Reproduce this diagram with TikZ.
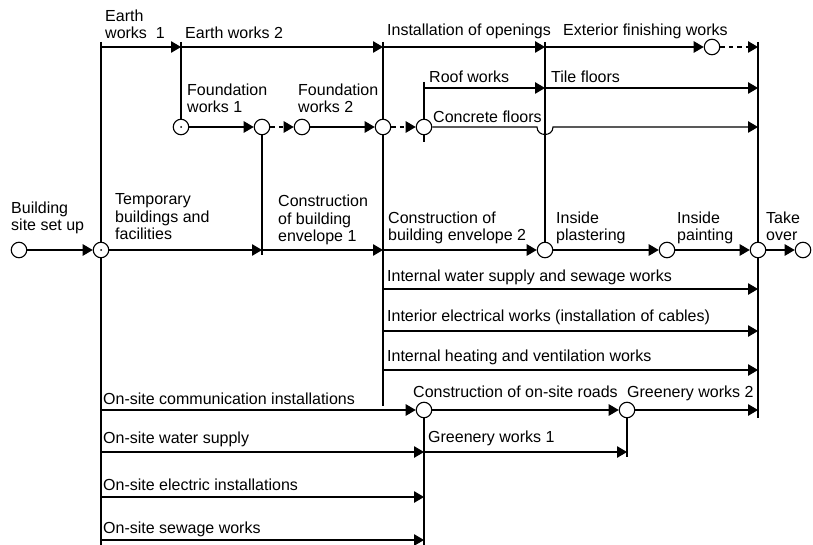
\documentclass[tikz,border=0pt]{standalone}
\usepackage{fontspec}
\setmainfont{Liberation Sans}
\usetikzlibrary{arrows.meta}
\begin{document}
\begin{tikzpicture}[x=1pt,y=-1pt,
  ev/.style={circle,draw,fill=white,minimum size=15.5pt,inner sep=0pt,line width=1.1pt},
  evdot/.style={ev,path picture={\fill[black] (path picture bounding box.center) circle[radius=1pt];}},
  act/.style={line width=1.1pt,-{Triangle[length=10pt,width=11.5pt]}},
  dum/.style={act,dash pattern=on 4.5pt off 4pt},
  bar/.style={line width=2.2pt},
  lab/.style={anchor=south west,inner sep=0pt,text depth=0pt,align=left,font=\fontsize{16}{17.5}\selectfont}]
\useasboundingbox (0,0) rectangle (813,545);

% events
\node[ev] (e0) at (19,250) {};
\node[evdot] (e1) at (101,250) {};
\node[evdot] (e2) at (181,127) {};
\node[ev] (e3) at (262,127) {};
\node[ev] (e4) at (302,127) {};
\node[ev] (e5) at (383,127) {};
\node[ev] (e6) at (424,127) {};
\node[ev] (e7) at (545,250) {};
\node[ev] (e8) at (667,250) {};
\node[ev] (e9) at (758,250) {};
\node[ev] (e10) at (803,250) {};
\node[ev] (e11) at (712,47) {};
\node[ev] (e12) at (424,410) {};
\node[ev] (e13) at (627,410) {};

% bar end points
\coordinate (a1) at (101,42);  \coordinate (a2) at (101,545);
\coordinate (b1) at (181,42);
\coordinate (c2) at (262,255);
\coordinate (d1) at (383,42);  \coordinate (d2) at (383,406);
\coordinate (f1) at (424,82);  \coordinate (f2) at (424,142);
\coordinate (g1) at (545,42);
\coordinate (h1) at (758,42);  \coordinate (h2) at (758,418);
\coordinate (k2) at (424,545);
\coordinate (m2) at (627,457);

\draw[bar] (a1) -- (e1.north) (e1.south) -- (a2);
\draw[bar] (b1) -- (e2.north);
\draw[bar] (e3.south) -- (c2);
\draw[bar] (d1) -- (e5.north) (e5.south) -- (d2);
\draw[bar] (f1) -- (e6.north) (e6.south) -- (f2);
\draw[bar] (g1) -- (e7.north);
\draw[bar] (h1) -- (e9.north) (e9.south) -- (h2);
\draw[bar] (e12.south) -- (k2);
\draw[bar] (e13.south) -- (m2);

% junctions
\coordinate (t1) at (101,47); \coordinate (t2) at (181,47); \coordinate (t3) at (383,47);
\coordinate (t4) at (545,47); \coordinate (t5) at (758,47);
\coordinate (r1) at (424,88); \coordinate (r2) at (545,88); \coordinate (r3) at (758,88);
\coordinate (q1) at (537,127); \coordinate (q2) at (553,127); \coordinate (c1) at (758,127);
\coordinate (s1) at (262,250); \coordinate (s2) at (383,250);
\coordinate (w1) at (383,289); \coordinate (w2) at (758,289);
\coordinate (x1) at (383,331); \coordinate (x2) at (758,331);
\coordinate (z1) at (383,370); \coordinate (z2) at (758,370);
\coordinate (o1) at (101,410); \coordinate (o2) at (758,410);
\coordinate (p1) at (101,452); \coordinate (p2) at (424,452); \coordinate (p3) at (627,452);
\coordinate (u1) at (101,497); \coordinate (u2) at (424,497);
\coordinate (n1) at (101,540); \coordinate (n2) at (424,540);

% activities
\draw[act] (t1) -- (t2);
\draw[act] (t2) -- (t3);
\draw[act] (t3) -- (t4);
\draw[act] (t4) -- (e11);
\draw[dum] (e11) -- (t5);
\draw[act] (r1) -- (r2);
\draw[act] (r2) -- (r3);
\draw[act] (e2) -- (e3);
\draw[dum] (e3) -- (e4);
\draw[act] (e4) -- (e5);
\draw[dum] (e5) -- (e6);
\draw[act] (e6) -- (q1) .. controls +(0,10) and +(0,10) .. (q2) -- (c1);
\draw[act] (e0) -- (e1);
\draw[act] (e1) -- (s1);
\draw[act] (s1) -- (s2);
\draw[act] (s2) -- (e7);
\draw[act] (e7) -- (e8);
\draw[act] (e8) -- (e9);
\draw[act] (e9) -- (e10);
\draw[act] (w1) -- (w2);
\draw[act] (x1) -- (x2);
\draw[act] (z1) -- (z2);
\draw[act] (o1) -- (e12);
\draw[act] (e12) -- (e13);
\draw[act] (e13) -- (o2);
\draw[act] (p1) -- (p2);
\draw[act] (p2) -- (p3);
\draw[act] (u1) -- (u2);
\draw[act] (n1) -- (n2);

% labels
\node[lab] (l1) at (105,39) {Earth\\works~ 1};
\node[lab] (l2) at (185,39) {Earth works 2};
\node[lab] (l3) at (387,36) {Installation of openings};
\node[lab] (l4) at (563,36) {Exterior finishing works};
\node[lab] (l5) at (429,83) {Roof works};
\node[lab] (l6) at (551,83) {Tile floors};
\node[lab] (l7) at (433,123) {Concrete floors};
\node[lab] (l8) at (187,113) {Foundation\\works 1};
\node[lab] (l9) at (298,113) {Foundation\\works 2};
\node[lab] (l10) at (11,231) {Building\\site set up};
\node[lab] (l11) at (115,240) {Temporary\\buildings and\\facilities};
\node[lab] (l12) at (278,242) {Construction\\of building\\envelope 1};
\node[lab] (l13) at (388,241) {Construction of\\building envelope 2};
\node[lab] (l14) at (556,241) {Inside\\plastering};
\node[lab] (l15) at (677,241) {Inside\\painting};
\node[lab] (l16) at (766,241) {Take\\over};
\node[lab] (l17) at (387,282) {Internal water supply and sewage works};
\node[lab] (l18) at (387,322) {Interior electrical works (installation of cables)};
\node[lab] (l19) at (387,362) {Internal heating and ventilation works};
\node[lab] (l20) at (413,398) {Construction of on-site roads};
\node[lab] (l21) at (627,398) {Greenery works 2};
\node[lab] (l22) at (103,405) {On-site communication installations};
\node[lab] (l23) at (103,444) {On-site water supply};
\node[lab] (l24) at (428,443) {Greenery works 1};
\node[lab] (l25) at (103,491) {On-site electric installations};
\node[lab] (l26) at (103,534) {On-site sewage works};
\end{tikzpicture}
\end{document}
